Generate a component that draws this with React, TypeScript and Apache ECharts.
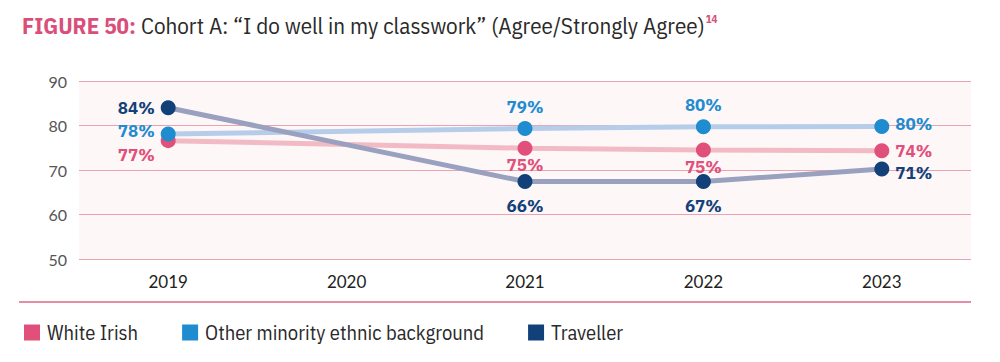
import React, { useEffect, useRef } from "react";
import * as echarts from "echarts";

const categories = ["2019", "2020", "2021", "2022", "2023"];
const whiteIrish = [76.6, null, 74.9, 74.5, 74.3];
const otherMinority = [78.1, null, 79.3, 79.7, 79.8];
const traveller = [84.0, null, 67.4, 67.4, 70.2];
const whiteIrishLabels = ["77%", "", "75%", "75%", "74%"];
const otherMinorityLabels = ["78%", "", "79%", "80%", "80%"];
const travellerLabels = ["84%", "", "66%", "67%", "71%"];
const yTicks = [50, 60, 70, 80, 90];

const PINK = "#e0507a";
const BLUE = "#1e8ccf";
const NAVY = "#12417a";
const COND = "'IBM Plex Sans Condensed', 'Liberation Sans Narrow', 'Roboto', sans-serif";

type Pos = { position: string; offset: [number, number] };

function build(values: (number | null)[], labels: string[], color: string, pos: Pos[]) {
  return values.map((v, i) => ({
    value: v,
    label: {
      show: v !== null,
      formatter: labels[i],
      position: pos[i].position,
      offset: pos[i].offset,
      distance: 6,
      color,
      fontWeight: "bold",
      fontSize: 17,
      fontFamily: "'IBM Plex Sans', 'Open Sans', sans-serif",
    },
  }));
}

export default function App() {
  const ref = useRef<HTMLDivElement>(null);
  useEffect(() => {
    if (!ref.current) return;
    const chart = echarts.init(ref.current, undefined, { renderer: "svg" });
    const pinkPos: Pos[] = [
      { position: "left", offset: [0, 14] },
      { position: "left", offset: [0, 0] },
      { position: "bottom", offset: [0, -5] },
      { position: "bottom", offset: [0, -5] },
      { position: "right", offset: [0, 0] },
    ];
    const bluePos: Pos[] = [
      { position: "left", offset: [0, -3] },
      { position: "left", offset: [0, 0] },
      { position: "top", offset: [0, 0] },
      { position: "top", offset: [0, 0] },
      { position: "right", offset: [0, -2] },
    ];
    const navyPos: Pos[] = [
      { position: "left", offset: [0, 0] },
      { position: "left", offset: [0, 0] },
      { position: "bottom", offset: [0, 2] },
      { position: "bottom", offset: [0, 2] },
      { position: "right", offset: [0, 4] },
    ];
    const common = {
      type: "line",
      connectNulls: true,
      symbol: "circle",
      symbolSize: 15,
      z: 2,
    };
    chart.setOption({
      animation: false,
      title: {
        left: 17,
        top: 8,
        text: "{b|FIGURE 50:} {n|Cohort A: “I do well in my classwork” (Agree/Strongly Agree)}{s|14}",
        textStyle: {
          rich: {
            b: { fontFamily: COND, fontWeight: "bold", fontSize: 23, color: "#d94f7a" },
            n: { fontFamily: COND, fontWeight: "normal", fontSize: 23, color: "#2a2a2a" },
            s: {
              fontFamily: COND,
              fontWeight: "bold",
              fontSize: 11,
              color: "#d94f7a",
              verticalAlign: "top",
              padding: [0, 0, 12, 1],
            },
          },
        },
      },
      grid: {
        left: 79,
        right: 29,
        top: 81,
        height: 178,
        show: true,
        backgroundColor: "#fef7f8",
        borderWidth: 0,
      },
      legend: {
        left: 19,
        top: 317,
        icon: "rect",
        itemWidth: 16,
        itemHeight: 16,
        itemGap: 44,
        textStyle: {
          fontFamily: COND,
          fontSize: 20.5,
          color: "#2a2a2a",
          padding: [0, 0, 0, 2],
        },
        data: [
          { name: "White Irish", itemStyle: { color: PINK } },
          { name: "Other minority ethnic background", itemStyle: { color: BLUE } },
          { name: "Traveller", itemStyle: { color: NAVY } },
        ],
      },
      xAxis: {
        type: "category",
        data: categories,
        boundaryGap: true,
        axisLine: { show: false },
        axisTick: { show: false },
        axisLabel: {
          margin: 14,
          fontSize: 17,
          color: "#222",
          fontFamily: "Lato, 'Open Sans', sans-serif",
        },
      },
      yAxis: {
        type: "value",
        min: yTicks[0],
        max: yTicks[yTicks.length - 1],
        interval: 10,
        axisLine: { show: false },
        axisTick: { show: false },
        axisLabel: {
          margin: 12,
          fontSize: 16,
          color: "#555",
          fontFamily: "Lato, 'Open Sans', sans-serif",
        },
        splitLine: { lineStyle: { color: "#e9a3b2", width: 1 } },
      },
      graphic: [
        {
          type: "line",
          shape: { x1: 19, y1: 302, x2: 971, y2: 302 },
          style: { stroke: "#e48ea5", lineWidth: 2 },
        },
      ],
      series: [
        {
          ...common,
          name: "White Irish",
          data: build(whiteIrish, whiteIrishLabels, PINK, pinkPos),
          lineStyle: { color: "#f2bac5", width: 5 },
          itemStyle: { color: PINK },
        },
        {
          ...common,
          name: "Other minority ethnic background",
          data: build(otherMinority, otherMinorityLabels, BLUE, bluePos),
          lineStyle: { color: "#b6cdea", width: 5 },
          itemStyle: { color: BLUE },
        },
        {
          ...common,
          name: "Traveller",
          data: build(traveller, travellerLabels, NAVY, navyPos),
          lineStyle: { color: "#9aa1bf", width: 5 },
          itemStyle: { color: NAVY },
        },
      ],
    });
    return () => chart.dispose();
  }, []);
  return (
    <div
      ref={ref}
      style={{ position: "fixed", left: 0, top: 0, width: 1000, height: 362, background: "#fff" }}
    />
  );
}
